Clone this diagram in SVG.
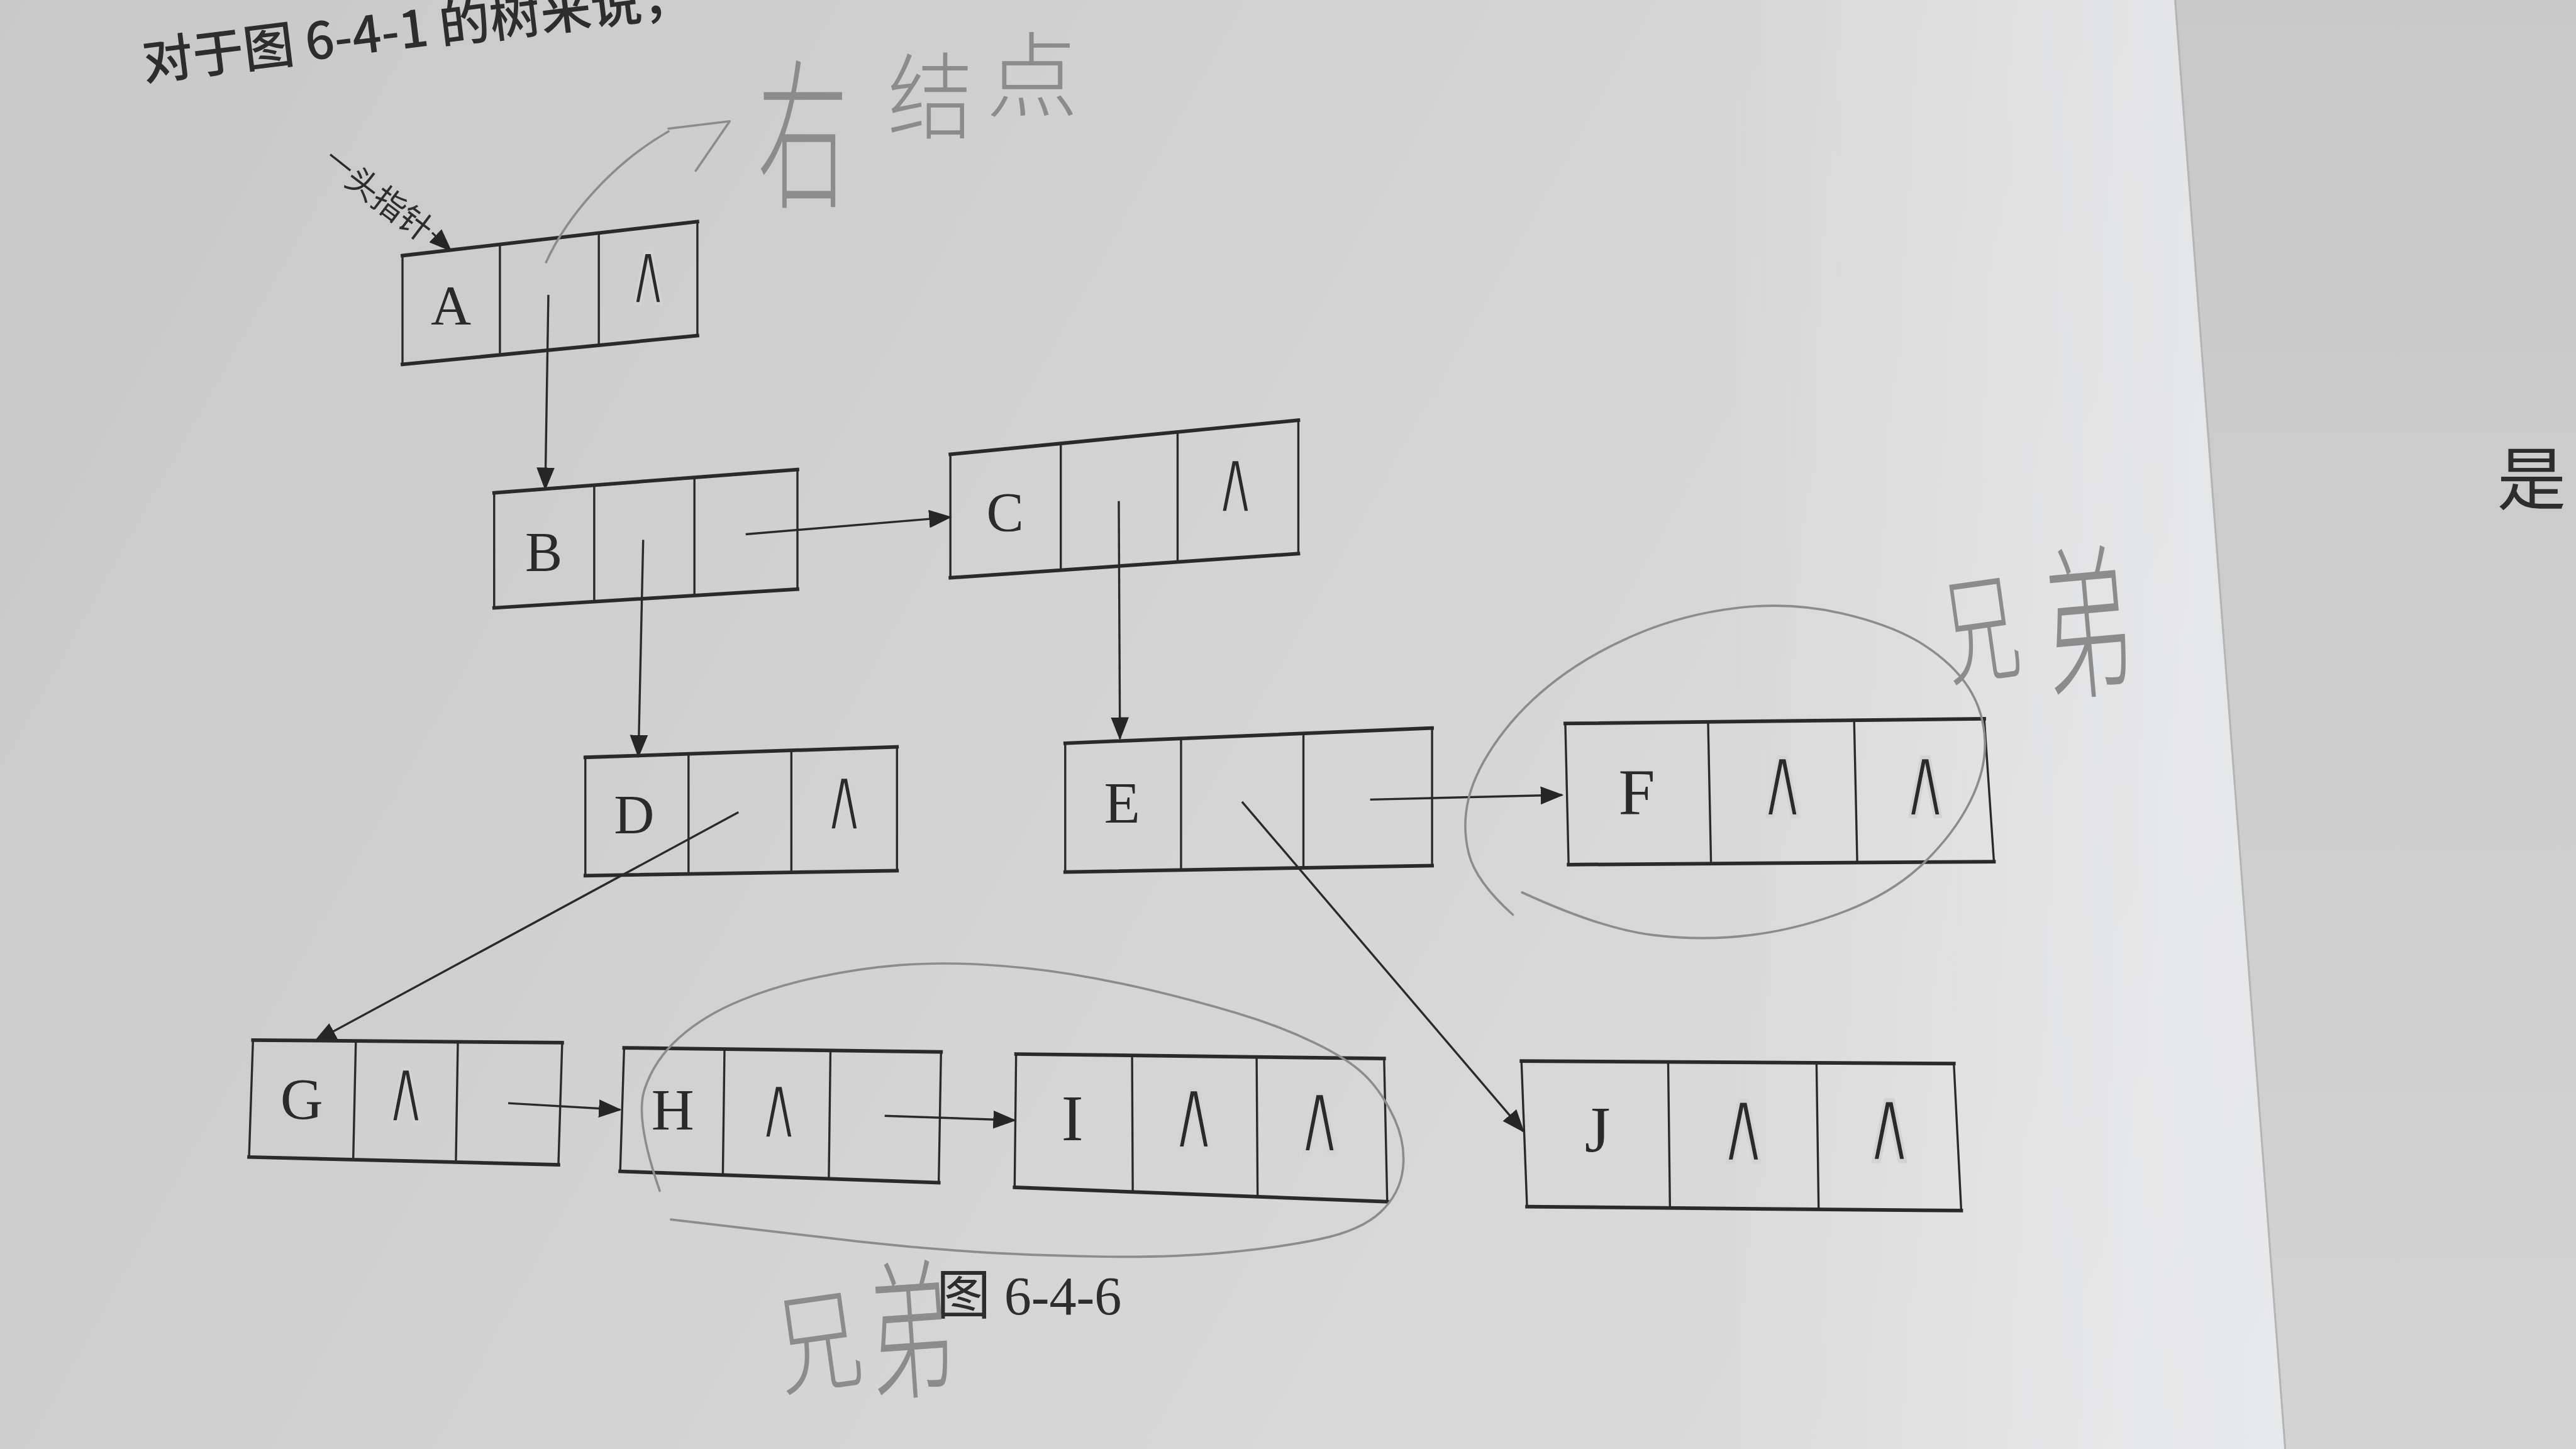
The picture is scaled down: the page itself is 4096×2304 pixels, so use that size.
<svg xmlns="http://www.w3.org/2000/svg" width="4096" height="2304" viewBox="0 0 4096 2304">
<defs>
<linearGradient id="paper" gradientUnits="userSpaceOnUse" x1="0" y1="0" x2="1568" y2="882">
<stop offset="0" stop-color="#c8c8c8"/>
<stop offset="0.5" stop-color="#d5d5d6"/>
<stop offset="1" stop-color="#dfdfe0"/>
</linearGradient>
<linearGradient id="edgeglow" gradientUnits="userSpaceOnUse" x1="1050" y1="0" x2="1390" y2="0">
<stop offset="0" stop-color="#ffffff" stop-opacity="0"/>
<stop offset="1" stop-color="#f2f3f5" stop-opacity="0.55"/>
</linearGradient>
<linearGradient id="rpage" gradientUnits="userSpaceOnUse" x1="0" y1="0" x2="0" y2="882">
<stop offset="0" stop-color="#c8c8c8"/>
<stop offset="1" stop-color="#d3d3d4"/>
</linearGradient>
<marker id="ah" markerUnits="userSpaceOnUse" markerWidth="14" markerHeight="11" viewBox="0 0 14 11" refX="13" refY="5.5" orient="auto">
<path d="M0,0 L14,5.5 L0,11 Z" fill="#262626"/>
</marker>
<style>
.hz{stroke:#2a2a2a;stroke-width:2.2;fill:none;stroke-linecap:square}
.vt{stroke:#2a2a2a;stroke-width:1.3;fill:none}
.conn{stroke:#2a2a2a;stroke-width:1.3;fill:none;marker-end:url(#ah)}
.lbl{font-family:"Liberation Serif","Times New Roman",serif;fill:#2a2a2a;text-anchor:middle}
.nul{font-family:"DejaVu Sans",sans-serif;font-weight:200;font-size:40px;fill:#2a2a2a;text-anchor:middle;stroke:#d3d3d4;stroke-width:1.5;paint-order:fill}
.pencil{stroke:#8c8c8c;stroke-width:1.4;fill:none;stroke-linecap:round;stroke-linejoin:round}
.hand{font-family:"Noto Sans CJK SC",sans-serif;font-weight:300;fill:#8c8c8c;text-anchor:middle;dominant-baseline:central}
.book{font-family:"Noto Sans CJK SC",sans-serif;fill:#2d2d2d}
.cap{font-family:"Liberation Serif","Noto Sans CJK SC",serif;fill:#2d2d2d}
</style>
</defs>
<g transform="scale(2.61224)">
<g id="background">
<rect x="0" y="0" width="1568" height="882" fill="url(#paper)"/>
<rect x="1050" y="0" width="345" height="882" fill="url(#edgeglow)"/>
<path d="M1324,0 L1568,0 L1568,882 L1391,882 Z" fill="url(#rpage)"/>
<path d="M1324,0 L1391,882" stroke="#b5b5b5" stroke-width="1.2" fill="none"/>
</g>
<g id="page-text">
<text class="book" font-size="31" font-weight="500" transform="translate(88,49) rotate(-7)">对于图 6-4-1 的树来说，</text>
<text class="book" font-size="42" x="1520" y="307">是</text>
<text class="cap" font-size="33" x="570" y="800">图 6-4-6</text>
</g>
<g id="connectors">
<path class="vt" d="M201,94 L213.3,103.8"/>
<path class="conn" d="M263,141.6 L274.4,152.5"/>
<path class="conn" d="M333.8,179.5 L331.9,297.6"/>
<path class="conn" d="M453.9,325.2 L578.5,314.8"/>
<path class="conn" d="M391.5,328.6 L388.6,460.4"/>
<path class="conn" d="M681,305 L681.7,449.6"/>
<path class="conn" d="M834,486.7 L950.8,483.9"/>
<path class="conn" d="M756,488 L927.3,688.7"/>
<path class="conn" d="M449.5,494.4 L191.6,633.9"/>
<path class="conn" d="M309.3,671.5 L377.5,675.5"/>
<path class="conn" d="M538.5,679.2 L617.6,681.9"/>
<text class="book" font-size="20" text-anchor="middle" dominant-baseline="central" transform="translate(238,122.8) rotate(37)">头指针</text>
</g>
<g id="node-A">
<path class="hz" d="M245,155.6 L424.5,134.9 M245,221.8 L424.5,204.3"/>
<path class="vt" d="M245,155.6 L245,221.8 M424.5,134.9 L424.5,204.3 M304.3,148.8 L304.3,216 M364.5,141.8 L364.5,210.2"/>
<text class="lbl" font-size="34" x="274.5" y="197">A</text>
<text class="nul" transform="translate(394.6,185) scale(0.85,1.35)">∧</text>
</g>
<g id="node-B">
<path class="hz" d="M300.8,300 L485.4,285.8 M300.8,370 L485.4,358.6"/>
<path class="vt" d="M300.8,300 L300.8,370 M485.4,285.8 L485.4,358.6 M361.7,295.3 L361.7,366.2 M422.7,290.6 L422.7,362.5"/>
<text class="lbl" font-size="34" x="331" y="347.3">B</text>
</g>
<g id="node-C">
<path class="hz" d="M578.5,276.5 L790.3,255.8 M578.5,351.7 L790.3,337"/>
<path class="vt" d="M578.5,276.5 L578.5,351.7 M790.3,255.8 L790.3,337 M645.7,269.9 L645.7,347.1 M716.8,263 L716.8,342.2"/>
<text class="lbl" font-size="34" x="611.8" y="323.2">C</text>
<text class="nul" transform="translate(752,312) scale(0.9,1.4)">∧</text>
</g>
<g id="node-D">
<path class="hz" d="M356.3,461 L546,454.6 M356.3,533 L546,530"/>
<path class="vt" d="M356.3,461 L356.3,533 M546,454.6 L546,530 M419.1,458.9 L419.1,532 M481.7,456.8 L481.7,531"/>
<text class="lbl" font-size="34" x="386" y="507.3">D</text>
<text class="nul" transform="translate(513.9,505.5) scale(0.9,1.4)">∧</text>
</g>
<g id="node-E">
<path class="hz" d="M648.4,452.4 L871.7,443.2 M648.4,530.8 L871.7,526.9"/>
<path class="vt" d="M648.4,452.4 L648.4,530.8 M871.7,443.2 L871.7,526.9 M718.9,449.5 L718.9,529.6 M793.4,446.4 L793.4,528.3"/>
<text class="lbl" font-size="36" x="683" y="500.9">E</text>
</g>
<g id="node-F">
<path class="hz" d="M952.8,440.4 L1207.8,437.5 M954.8,526.3 L1213.7,524.5"/>
<path class="vt" d="M952.8,440.4 L954.8,526.3 M1207.8,437.5 L1213.7,524.5 M1039.7,439.4 L1041.5,525.7 M1128.6,438.4 L1130.5,525"/>
<text class="lbl" font-size="40" x="996.3" y="495.4">F</text>
<text class="nul" transform="translate(1085,497) scale(1,1.55)">∧</text>
<text class="nul" transform="translate(1172,497) scale(1,1.55)">∧</text>
</g>
<g id="node-G">
<path class="hz" d="M154,633.1 L342.2,634.7 M151.6,704.3 L339.9,709"/>
<path class="vt" d="M154,633.1 L151.6,704.3 M342.2,634.7 L339.9,709 M216.6,633.6 L215,705.9 M278.7,634.2 L277.5,707.4"/>
<text class="lbl" font-size="36" x="183.6" y="680.9">G</text>
<text class="nul" transform="translate(247.2,683) scale(0.9,1.4)">∧</text>
</g>
<g id="node-H">
<path class="hz" d="M379.9,637.8 L572.8,640.3 M377.5,713 L571.4,719.9"/>
<path class="vt" d="M379.9,637.8 L377.5,713 M572.8,640.3 L571.4,719.9 M441,638.6 L440,715.2 M505.5,639.4 L504.5,717.5"/>
<text class="lbl" font-size="36" x="409.5" y="687.4">H</text>
<text class="nul" transform="translate(474,693) scale(0.9,1.4)">∧</text>
</g>
<g id="node-I">
<path class="hz" d="M618.5,641.6 L842.5,644.3 M617.6,722.7 L844.4,731.5"/>
<path class="vt" d="M618.5,641.6 L617.6,722.7 M842.5,644.3 L844.4,731.5 M689.1,642.4 L689.5,725.4 M764.9,643.4 L765.5,728.4"/>
<text class="lbl" font-size="40" x="652.8" y="694.2">I</text>
<text class="nul" transform="translate(726.7,699) scale(1,1.55)">∧</text>
<text class="nul" transform="translate(803.4,701.5) scale(1,1.55)">∧</text>
</g>
<g id="node-J">
<path class="hz" d="M926.1,645.9 L1189.3,647.4 M929.5,734.5 L1193.8,736.9"/>
<path class="vt" d="M926.1,645.9 L929.5,734.5 M1189.3,647.4 L1193.8,736.9 M1015.4,646.4 L1016.5,735.3 M1105.7,646.9 L1107,736.1"/>
<text class="lbl" font-size="40" x="972.4" y="701">J</text>
<text class="nul" transform="translate(1061.2,707) scale(1.05,1.6)">∧</text>
<text class="nul" transform="translate(1149.8,706.5) scale(1.05,1.6)">∧</text>
</g>
<g id="pencil-annotations">
<path class="pencil" d="M332.4,159.6 C345,132 372,100 406.9,80 M406.9,78.3 L444.2,73.8 L423.5,103.9"/>
<text class="hand" font-size="58" transform="translate(488.6,76) scale(0.95,1.7)">右</text>
<text class="hand" font-size="52" transform="translate(566.3,55) scale(1,1.1)">结</text>
<text class="hand" font-size="56" transform="translate(628.3,42)">点</text>
<path class="pencil" d="M926.5,543.2 Q974.6,565.3 1005.65,569.1 Q1036.7,572.9 1066.35,569.1 Q1096,565.3 1124.25,554.25 Q1152.5,543.2 1170.85,525.45 Q1189.2,507.7 1199.05,488.2 Q1208.9,468.7 1208.2,450.9 Q1207.5,433.1 1198.35,418.7 Q1189.2,404.3 1170.85,392.45 Q1152.5,380.6 1121.4,373.4 Q1090.3,366.2 1057.85,370 Q1025.4,373.8 997.15,385.65 Q968.9,397.5 947.7,413.6 Q926.5,429.7 912.4,449.2 Q898.3,468.7 894.05,485.65 Q889.8,502.6 894.05,519.55 Q898.3,536.5 920.9,556.8"/>
<text class="hand" font-size="48" transform="translate(1205,378) rotate(-8) scale(0.95,1.5)">兄</text>
<text class="hand" font-size="56" transform="translate(1270,373) rotate(-5) scale(0.95,1.8)">弟</text>
<path class="pencil" d="M401.6,724.9 Q386.4,681.2 392.3,663.15 Q398.2,645.1 413.45,631.55 Q428.7,618 450.75,609 Q472.8,600 498.2,594.7 Q523.6,589.4 547.3,587.5 Q571,585.6 598.15,587.15 Q625.3,588.7 650.7,592.8 Q676.1,596.9 701.5,602.95 Q726.9,609 752.3,616.5 Q777.7,624 799.75,634.55 Q821.8,645.1 831.95,655.65 Q842.1,666.2 848.9,681.25 Q855.7,696.3 853.95,711.4 Q852.2,726.5 840.4,737.75 Q828.6,749 803.15,754.3 Q777.7,759.6 743.85,762.6 Q710,765.6 667.65,764.85 Q625.3,764.1 591.4,761.85 Q557.5,759.6 523.6,755.8 Q489.7,752 408.4,742.3"/>
<text class="hand" font-size="54" transform="translate(497.5,812) rotate(-8) scale(0.95,1.25)">兄</text>
<text class="hand" font-size="54" transform="translate(554,804) rotate(-4) scale(0.95,1.7)">弟</text>
</g>
</g>
</svg>
